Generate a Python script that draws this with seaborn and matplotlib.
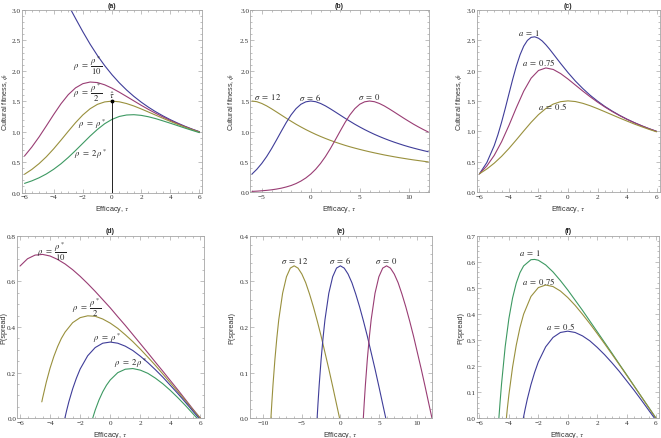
import numpy as np
import pandas as pd
import seaborn as sns
import matplotlib.pyplot as plt
from matplotlib.ticker import MultipleLocator

# ---- data ----
# panels (a), (c): cultural fitness vs efficacy
tau = [-6.0, -5.5, -5.0, -4.5, -4.0, -3.5, -3.0, -2.5, -2.0, -1.5, -1.0, -0.5, 0.0,
       0.5, 1.0, 1.5, 2.0, 2.5, 3.0, 3.5, 4.0, 4.5, 5.0, 5.5, 6.0]
phi_rho10 = [3.000, 3.319, 3.503, 3.540, 3.456, 3.291, 3.083, 2.861, 2.643, 2.438, 2.252, 2.085, 1.936,
             1.803, 1.685, 1.580, 1.486, 1.402, 1.327, 1.259, 1.197, 1.141, 1.089, 1.042, 0.999]
phi_rho2 = [0.600, 0.747, 0.914, 1.096, 1.282, 1.458, 1.608, 1.720, 1.789, 1.816, 1.807, 1.770, 1.715,
            1.649, 1.578, 1.506, 1.434, 1.366, 1.301, 1.241, 1.184, 1.132, 1.083, 1.038, 0.996]
phi_rho = [0.300, 0.379, 0.475, 0.588, 0.718, 0.860, 1.006, 1.148, 1.275, 1.377, 1.449, 1.489, 1.502,
           1.491, 1.462, 1.422, 1.374, 1.323, 1.271, 1.219, 1.169, 1.120, 1.075, 1.032, 0.992]
phi_2rho = [0.150, 0.191, 0.242, 0.305, 0.382, 0.472, 0.576, 0.690, 0.809, 0.928, 1.037, 1.131, 1.202,
            1.250, 1.274, 1.279, 1.268, 1.245, 1.214, 1.177, 1.139, 1.099, 1.059, 1.021, 0.984]
phi_a075 = [0.300, 0.429, 0.603, 0.828, 1.098, 1.390, 1.663, 1.876, 2.003, 2.045, 2.020, 1.952, 1.862,
            1.763, 1.664, 1.570, 1.482, 1.401, 1.326, 1.259, 1.197, 1.141, 1.090, 1.043, 1.000]
tau_a1 = [-6.0, -5.5, -5.0, -4.75, -4.5, -4.25, -4.0, -3.75, -3.5, -3.25, -3.0, -2.75, -2.5, -2.25,
          -2.0, -1.75, -1.5, -1.25, -1.0, -0.5, 0.0, 0.5, 1.0, 1.5, 2.0, 2.5, 3.0, 3.5, 4.0, 4.5,
          5.0, 5.5, 6.0]
phi_a1 = [0.300, 0.485, 0.764, 0.944, 1.151, 1.379, 1.619, 1.856, 2.075, 2.261, 2.404, 2.499, 2.549,
          2.558, 2.535, 2.490, 2.427, 2.355, 2.277, 2.119, 1.968, 1.829, 1.706, 1.595, 1.498, 1.410,
          1.333, 1.263, 1.200, 1.143, 1.091, 1.043, 1.000]
tau_hat = [0.0, 0.0]
phi_hat = [0.0, 1.5]

# panel (b)
tau_b = [-6.0, -5.5, -5.0, -4.5, -4.0, -3.5, -3.0, -2.5, -2.0, -1.5, -1.0, -0.5, 0.0, 0.5, 1.0,
         1.5, 2.0, 2.5, 3.0, 3.5, 4.0, 4.5, 5.0, 5.5, 6.0, 6.5, 7.0, 7.5, 8.0, 8.5, 9.0, 9.5,
         10.0, 10.5, 11.0, 11.5, 12.0]
phi_sig0 = [0.015, 0.019, 0.025, 0.032, 0.041, 0.053, 0.068, 0.088, 0.112, 0.144, 0.185, 0.236,
            0.300, 0.379, 0.475, 0.588, 0.718, 0.860, 1.006, 1.148, 1.275, 1.377, 1.449, 1.489,
            1.502, 1.491, 1.462, 1.422, 1.374, 1.323, 1.271, 1.219, 1.169, 1.120, 1.075, 1.032, 0.992]
phi_sig6 = [0.300, 0.379, 0.475, 0.588, 0.718, 0.860, 1.006, 1.148, 1.275, 1.377, 1.449, 1.489,
            1.502, 1.491, 1.462, 1.422, 1.374, 1.323, 1.271, 1.219, 1.169, 1.120, 1.075, 1.032,
            0.992, 0.954, 0.919, 0.886, 0.855, 0.826, 0.799, 0.773, 0.749, 0.727, 0.706, 0.686, 0.667]
phi_sig12 = [1.502, 1.491, 1.462, 1.422, 1.374, 1.323, 1.271, 1.219, 1.169, 1.120, 1.075, 1.032,
             0.992, 0.954, 0.919, 0.886, 0.855, 0.826, 0.799, 0.773, 0.749, 0.727, 0.706, 0.686,
             0.667, 0.649, 0.632, 0.615, 0.600, 0.585, 0.571, 0.558, 0.545, 0.533, 0.522, 0.511, 0.500]

# panels (d), (e), (f): probability of spread
p_rho10 = [0.667, 0.699, 0.715, 0.718, 0.711, 0.696, 0.676, 0.651, 0.622, 0.590, 0.556, 0.520, 0.484,
           0.445, 0.407, 0.367, 0.327, 0.287, 0.246, 0.206, 0.165, 0.124, 0.082, 0.040, 0.0]
tau_p2 = [-4.55, -4.5, -4.25, -4.0, -3.75, -3.5, -3.25, -3.0, -2.5, -2.0, -1.5, -1.0, -0.5, 0.0,
          0.5, 1.0, 1.5, 2.0, 2.5, 3.0, 3.5, 4.0, 4.5, 5.0, 5.5, 6.0]
p_rho2 = [0.072, 0.088, 0.159, 0.220, 0.271, 0.314, 0.350, 0.378, 0.419, 0.441, 0.449, 0.447, 0.435,
          0.417, 0.394, 0.366, 0.336, 0.303, 0.268, 0.232, 0.194, 0.155, 0.116, 0.077, 0.036, 0.0]
tau_p = [-3.02, -2.9, -2.75, -2.5, -2.25, -2.0, -1.5, -1.0, -0.5, 0.0, 0.5, 1.0, 1.5, 2.0, 2.5,
         3.0, 3.5, 4.0, 4.5, 5.0, 5.5, 5.9]
p_rho = [0.0, 0.034, 0.073, 0.129, 0.176, 0.216, 0.274, 0.310, 0.329, 0.334, 0.329, 0.316, 0.297,
         0.272, 0.244, 0.213, 0.180, 0.144, 0.108, 0.070, 0.031, 0.0]
tau_p2x = [-1.17, -1.0, -0.75, -0.5, -0.25, 0.0, 0.5, 1.0, 1.5, 2.0, 2.5, 3.0, 3.5, 4.0, 4.5,
           5.0, 5.5, 5.78]
p_2rho = [0.0, 0.036, 0.080, 0.116, 0.145, 0.168, 0.200, 0.215, 0.218, 0.211, 0.197, 0.176, 0.151,
          0.122, 0.090, 0.056, 0.020, 0.0]
tau_e12 = [-9.02, -8.9, -8.75, -8.5, -8.25, -8.0, -7.5, -7.0, -6.5, -6.0, -5.5, -5.0, -4.5, -4.0,
           -3.5, -3.0, -2.5, -2.0, -1.5, -1.0, -0.5, -0.1]
tau_e0 = [2.98, 3.1, 3.25, 3.5, 3.75, 4.0, 4.5, 5.0, 5.5, 6.0, 6.5, 7.0, 7.5, 8.0, 8.5, 9.0, 9.5,
          10.0, 10.5, 11.0, 11.5, 11.9]
tau_pa1 = [-4.68, -4.6, -4.5, -4.25, -4.0, -3.75, -3.5, -3.25, -3.0, -2.5, -2.25, -2.0, -1.5, -1.0,
           -0.5, 0.0, 0.5, 1.0, 1.5, 2.0, 2.5, 3.0, 3.5, 4.0, 4.5, 5.0, 5.5, 6.0]
p_a1 = [0.0, 0.061, 0.131, 0.275, 0.382, 0.461, 0.518, 0.558, 0.584, 0.608, 0.609, 0.606, 0.588,
        0.561, 0.528, 0.492, 0.453, 0.414, 0.373, 0.332, 0.291, 0.250, 0.208, 0.167, 0.125, 0.083,
        0.042, 0.0]
tau_pa075 = [-4.17, -4.1, -4.0, -3.75, -3.5, -3.25, -3.0, -2.5, -2.0, -1.5, -1.0, -0.5, 0.0, 0.5,
             1.0, 1.5, 2.0, 2.5, 3.0, 3.5, 4.0, 4.5, 5.0, 5.5, 6.0]
p_a075 = [0.0, 0.040, 0.090, 0.196, 0.280, 0.347, 0.399, 0.467, 0.501, 0.511, 0.505, 0.488, 0.463,
          0.433, 0.399, 0.363, 0.325, 0.286, 0.246, 0.206, 0.165, 0.124, 0.083, 0.041, 0.0]

BLUE = "#3f3d99"
PURPLE = "#993d74"
YELLOW = "#99903d"
GREEN = "#3d9962"

sns.set_style("ticks")
plt.rcParams["font.family"] = ["Liberation Serif", "DejaVu Serif"]
plt.rcParams["mathtext.fontset"] = "stix"
plt.rcParams["axes.edgecolor"] = "#a6a6a6"
plt.rcParams["axes.linewidth"] = 0.6

SANS = ["Liberation Sans", "DejaVu Sans"]
W, H = 661, 439
fig = plt.figure(figsize=(W / 100, H / 100), dpi=100)


def add_panel(left, top, right, bottom):
    return fig.add_axes([left / W, 1 - bottom / H, (right - left) / W, (bottom - top) / H])


def style(ax, title, xlim, ylim, xmaj, xmin, ymaj, ymin, ylabel, ylab_x, xlab_y):
    ax.set_xlim(*xlim)
    ax.set_ylim(*ylim)
    ax.xaxis.set_major_locator(MultipleLocator(xmaj))
    ax.xaxis.set_minor_locator(MultipleLocator(xmin))
    ax.yaxis.set_major_locator(MultipleLocator(ymaj))
    ax.yaxis.set_minor_locator(MultipleLocator(ymin))
    ax.tick_params(which="both", direction="in", top=True, right=True, color="#a6a6a6",
                   width=0.5, labelsize=5.2, labelcolor="#333333", pad=1.2)
    ax.tick_params(axis="y", pad=0.6)
    ax.tick_params(which="major", length=2.6)
    ax.tick_params(which="minor", length=1.3)
    ax.set_title(title, fontsize=5, fontweight="bold", family=SANS, pad=2.5)
    ax.set_xlabel("Efficacy, $\\tau$", fontsize=5.2, family=SANS, color="#333333")
    ax.set_ylabel(ylabel, fontsize=5.2, family=SANS, color="#333333")
    ax.xaxis.set_label_coords(0.5, xlab_y)
    ax.yaxis.set_label_coords(ylab_x, 0.5)
    for sp in ax.spines.values():
        sp.set_visible(True)


def curve(ax, x, y, c):
    sns.lineplot(x=x, y=y, ax=ax, color=c, lw=0.8, estimator=None, sort=False)


def label(ax, x, y, s):
    ax.text(x, y, s, fontsize=6.2, ha="center", va="center", color="#222222")


phi_lab = "Cultural fitness, $\\phi$"
frac10 = "$\\rho\\ =\\ \\dfrac{\\rho^*}{10}$"
frac2 = "$\\rho\\ =\\ \\dfrac{\\rho^*}{2}$"

# (a)
ax = add_panel(21.6, 11, 202.4, 193.5)
curve(ax, tau, phi_rho10, BLUE)
curve(ax, tau, phi_rho2, PURPLE)
curve(ax, tau, phi_rho, YELLOW)
curve(ax, tau, phi_2rho, GREEN)
ax.plot(tau_hat, phi_hat, color="black", lw=0.6)
ax.plot(tau_hat[1:], phi_hat[1:], "o", color="black", ms=1.8)
label(ax, 0.0, 1.6, "$\\hat{\\tau}$")
label(ax, -1.7, 2.1, frac10)
label(ax, -1.7, 1.65, frac2)
label(ax, -1.4, 1.13, "$\\rho\\ =\\ \\rho^*$")
label(ax, -1.5, 0.65, "$\\rho\\ =\\ 2\\,\\rho^*$")
style(ax, "(a)", (-6.2, 6.2), (0, 3), 2, 0.5, 0.5, 0.1, phi_lab, -0.062, -0.058)

# (b)
ax = add_panel(250, 11, 429, 193.3)
curve(ax, tau_b, phi_sig12, YELLOW)
curve(ax, tau_b, phi_sig6, BLUE)
curve(ax, tau_b, phi_sig0, PURPLE)
label(ax, -4.45, 1.58, "$\\sigma\\ =\\ 12$")
label(ax, 0.0, 1.58, "$\\sigma\\ =\\ 6$")
label(ax, 6.0, 1.58, "$\\sigma\\ =\\ 0$")
style(ax, "(b)", (-6.2, 12.07), (0, 3), 5, 1, 0.5, 0.1, phi_lab, -0.078, -0.058)

# (c)
ax = add_panel(476.5, 11, 659.5, 193)
curve(ax, tau_a1, phi_a1, BLUE)
curve(ax, tau, phi_a075, PURPLE)
curve(ax, tau, phi_rho, YELLOW)
label(ax, -2.6, 2.64, "$a\\ =\\ 1$")
label(ax, -2.0, 2.15, "$a\\ =\\ 0.75$")
label(ax, -1.05, 1.42, "$a\\ =\\ 0.5$")
style(ax, "(c)", (-6.2, 6.2), (0, 3), 2, 0.5, 0.5, 0.1, phi_lab, -0.068, -0.058)

# (d)
ax = add_panel(17, 236.7, 203.5, 419.3)
curve(ax, tau, p_rho10, PURPLE)
curve(ax, tau_p2, p_rho2, YELLOW)
curve(ax, tau_p, p_rho, BLUE)
curve(ax, tau_p2x, p_2rho, GREEN)
label(ax, -3.9, 0.734, frac10)
label(ax, -1.6, 0.486, frac2)
label(ax, -0.2, 0.355, "$\\rho\\ =\\ \\rho^*$")
label(ax, 1.35, 0.245, "$\\rho\\ =\\ 2\\,\\rho^*$")
style(ax, "(d)", (-6.2, 6.2), (0, 0.8), 2, 0.5, 0.2, 0.05, "P(spread)", -0.054, -0.056)

# (e)
ax = add_panel(249.5, 236.7, 432, 419.3)
curve(ax, tau_e12, p_rho, YELLOW)
curve(ax, tau_p, p_rho, BLUE)
curve(ax, tau_e0, p_rho, PURPLE)
label(ax, -6.0, 0.347, "$\\sigma\\ =\\ 12$")
label(ax, 0.0, 0.347, "$\\sigma\\ =\\ 6$")
label(ax, 6.0, 0.347, "$\\sigma\\ =\\ 0$")
style(ax, "(e)", (-11.8, 11.9), (0, 0.4), 5, 1, 0.1, 0.02, "P(spread)", -0.076, -0.056)

# (f)
ax = add_panel(476.5, 236.7, 659, 419.3)
curve(ax, tau_pa1, p_a1, GREEN)
curve(ax, tau_pa075, p_a075, YELLOW)
curve(ax, tau_p, p_rho, BLUE)
label(ax, -2.55, 0.636, "$a\\ =\\ 1$")
label(ax, -1.95, 0.527, "$a\\ =\\ 0.75$")
label(ax, -0.5, 0.357, "$a\\ =\\ 0.5$")
style(ax, "(f)", (-6.2, 6.2), (0, 0.7), 2, 0.5, 0.1, 0.02, "P(spread)", -0.068, -0.056)

fig.savefig("out.png", dpi=100)
